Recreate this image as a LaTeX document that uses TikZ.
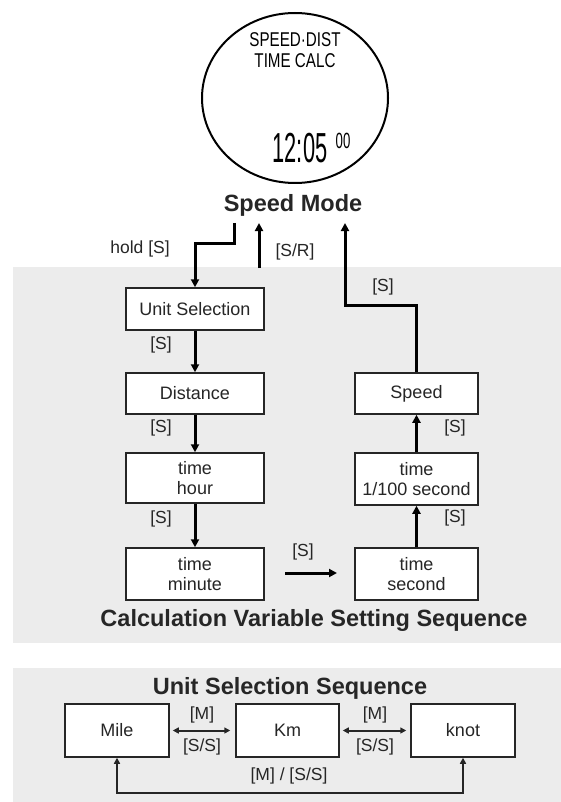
\documentclass[tikz,border=0pt]{standalone}
\usepackage{fontspec}
\setmainfont{Liberation Sans}
\usetikzlibrary{arrows.meta,calc}
\definecolor{panel}{RGB}{236,236,236}
\definecolor{ink}{RGB}{38,38,38}
\begin{document}
\begin{tikzpicture}[x=1pt,y=-1pt,
  box/.style={draw=ink,line width=1.5pt,fill=white,inner sep=0pt,align=center,
    font=\fontsize{18}{19.5}\selectfont,text=ink},
  lbl/.style={font=\fontsize{17.5}{19}\selectfont,text=ink,inner sep=0pt},
  ttl/.style={font=\fontsize{23.5}{26}\selectfont\bfseries,text=ink,inner sep=0pt},
  flow/.style={line width=3pt,draw=black,-{Triangle[width=8pt,length=8pt]}},
  twoway/.style={line width=2pt,draw=ink,{Triangle[width=6pt,length=6pt]}-{Triangle[width=6pt,length=6pt]}},
  lcd/.style={inner sep=0pt,text=black},
]
\useasboundingbox (0,0) rectangle (561,802);
% panels
\fill[panel] (13,267) rectangle (561,643);
\fill[panel] (13,668) rectangle (561,802);

% watch face
\draw[line width=2pt] (295,98) ellipse [x radius=93, y radius=85];
\node[lcd,align=center,font=\fontsize{19}{20.5}\selectfont] (lcdtxt) at (295,50)
  {\scalebox{0.8}[1.05]{SPEED·DIST}\\\scalebox{0.8}[1.05]{TIME CALC}};
\node[lcd,font=\fontsize{42}{42}\selectfont] (clk) at (300,148) {\scalebox{0.52}[1]{12:05}};
\node[lcd,font=\fontsize{22}{22}\selectfont] (sec) at (343,141) {\scalebox{0.6}[1]{00}};

% titles
\node[ttl] (sm) at (293,205) {Speed Mode};
\node[ttl] (cvs) at (314,620) {Calculation Variable Setting Sequence};
\node[ttl] (uss) at (290,688) {Unit Selection Sequence};

% left column
\node[box,minimum width=138pt,minimum height=42pt] (unit) at (195,309) {Unit Selection};
\node[box,minimum width=138pt,minimum height=41pt] (dist) at (195,393.5) {Distance};
\node[box,minimum width=138pt,minimum height=50pt] (hour) at (195,478) {time\\hour};
\node[box,minimum width=138pt,minimum height=52pt] (minute) at (195,574) {time\\minute};
% right column
\node[box,minimum width=123pt,minimum height=41pt] (speed) at (416.5,393.5) {Speed};
\node[box,minimum width=123pt,minimum height=52pt] (cent) at (416.5,479) {time\\1/100 second};
\node[box,minimum width=123pt,minimum height=52pt] (second) at (416.5,574) {time\\second};

% connectors top
\coordinate (h0) at (234,223);
\coordinate (h1) at (234,243);
\draw[flow] (h0) -- (h1) -| (unit.north);
\node[lbl] (holdl) at (140,249) {hold [S]};
\coordinate (r0) at (259,268);
\coordinate (r1) at (259,223);
\draw[flow] (r0) -- (r1);
\node[lbl] (srl) at (295,252) {[S/R]};
\coordinate (b1) at (345,305);
\coordinate (b2) at (345,223);
\draw[flow] (speed.north) |- (b1) -- (b2);
\node[lbl] (s0) at (383,287) {[S]};

% left column arrows
\draw[flow] (unit.south) -- (dist.north);
\draw[flow] (dist.south) -- (hour.north);
\draw[flow] (hour.south) -- (minute.north);
\node[lbl] (s1) at (161,345) {[S]};
\node[lbl] (s2) at (161,428) {[S]};
\node[lbl] (s3) at (161,519) {[S]};
% minute to second
\coordinate (m0) at (285,573);
\coordinate (m1) at (337,573);
\draw[flow] (m0) -- (m1);
\node[lbl] (s4) at (303,552) {[S]};
% right column arrows
\draw[flow] (second.north) -- (cent.south);
\draw[flow] (cent.north) -- (speed.south);
\node[lbl] (s5) at (455,428) {[S]};
\node[lbl] (s6) at (455,518) {[S]};

% unit selection sequence
\node[box,minimum width=104pt,minimum height=53pt] (mile) at (117,730.5) {Mile};
\node[box,minimum width=103pt,minimum height=53pt] (km) at (287.5,730.5) {Km};
\node[box,minimum width=104pt,minimum height=53pt] (knot) at (463,730.5) {knot};
\draw[twoway,shorten <=3pt,shorten >=5pt] (mile.east) -- (km.west);
\draw[twoway,shorten <=3pt,shorten >=4pt] (km.east) -- (knot.west);
\node[lbl] (m1a) at (202,715) {[M]};
\node[lbl] (m1b) at (202,747) {[S/S]};
\node[lbl] (m2a) at (375,715) {[M]};
\node[lbl] (m2b) at (375,747) {[S/S]};
\draw[twoway] (mile.south) -- ++(0,35) -| (knot.south);
\node[lbl] (mb) at (289,776) {[M] / [S/S]};
\end{tikzpicture}
\end{document}
